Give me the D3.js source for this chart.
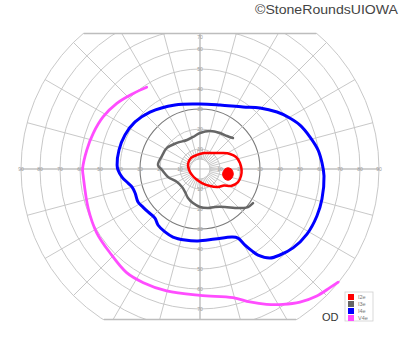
<!DOCTYPE html>
<html>
<head>
<meta charset="utf-8">
<title>Goldmann visual field OD</title>
<style>
  body { margin: 0; background: #fff; }
  svg { display: block; font-family: "Liberation Sans", Arial, sans-serif; }
</style>
</head>
<body>
<svg id="chart" width="400" height="352"></svg>
<script src="https://d3js.org/d3.v7.min.js"></script>
<script>
// grid rings (degrees of eccentricity) and axis tick labels
var rings = [5, 10, 20, 30, 40, 50, 60, 70, 80, 90];
var labelsH = [10, 20, 30, 40, 50, 60, 70, 80, 90];
var labelsV = [10, 20, 30, 40, 50, 60, 70];
var spokeAngles = [0, 15, 30, 45, 60, 75, 90, 105, 120, 135, 150, 165,
                   180, 195, 210, 225, 240, 255, 270, 285, 300, 315, 330, 345];
// extra short spokes in the central 5-10 degree band
var innerSpokes = [7.5, 22.5, 37.5, 52.5, 67.5, 82.5, 97.5, 112.5, 127.5, 142.5, 157.5, 172.5,
                   187.5, 202.5, 217.5, 232.5, 247.5, 262.5, 277.5, 292.5, 307.5, 322.5, 337.5, 352.5];

// isopters: [meridian angle (deg, CCW from right), eccentricity (deg)]
var i2e = [[8.5,20.2],[18.4,19],[26.6,16.8],[36,13.6],[53.1,10],[76,8.2],[102,7.2],[129,7.1],
           [157,6.5],[185,5.5],[217,5],[248,5.4],[278,7.1],[300.5,9.9],[315,12.7],[325.5,14.6],
           [331.3,17.7],[341,20.1],[350.3,20.8],[358.6,20.8]];
var blindSpot = [[351.5,16.8],[359.1,15.9],[2.5,14],[358.8,12.2],[347.6,11.6],[338.6,13],
                 [338.2,15.1],[343.3,16.5]];
var i3e = [[43.2,22.6],[50.7,21.3],[60.9,20.6],[75.3,19.6],[90,18],[102.3,16.4],[114.1,15.9],
           [131.5,17.4],[147.5,19.6],[161,20.1],[174.6,21.1],[181.5,19],[194,16.5],[209.5,13.2],
           [225,12.7],[236.9,13.7],[247.5,15.7],[258.4,17.4],[270,19],[281.6,19.9],[291.5,20.4],
           [303.3,22.7],[311.9,26.2],[317.8,29],[321.6,30.6],[327.3,31.5]];
var i4e = [[2.8,61.1],[9.1,59.8],[16.2,57.3],[23.7,54.6],[30.6,51.1],[36.5,47.9],[45.5,42.8],
           [55.3,37.7],[72.6,33.5],[90,32.5],[111.3,34.4],[131.3,37.9],[144.1,40.1],[155.6,41.2],
           [166.8,41.6],[177.2,41.5],[180.7,41],[185.9,39.2],[191,36.7],[194.8,35.2],[200.3,34.6],
           [208,35.1],[213.7,34.3],[219.6,33.7],[227.4,33.3],[233.1,35],[240.9,36],[248.3,36.6],
           [258.1,36.3],[268.4,36],[282.1,35.8],[295.2,37.6],[298.8,39.4],[300.6,44.2],[302.4,48.5],
           [304,51.9],[308.2,56.6],[312.9,58.7],[319.7,61],[328.7,62.6],[338.1,63],[346.2,62.8],
           [356.8,62.1]];
var v4e = [[123.1,48.8],[131.4,50.4],[141.7,53],[151.6,55],[161.5,56.3],[170.5,57.4],[180,58.7],
           [183.4,58.5],[199.7,59.3],[211.7,60.7],[222.9,61.5],[234.7,63.5],[243.5,63.5],[254.7,63.2],
           [270,63.2],[284.4,66.4],[290.6,71],[296.2,75.4],[301.5,79.4],[306.9,83.4],[312.6,86.6],
           [317.6,88.4],[320.7,89.8]];

var legendNames = ["I2e", "I3e", "I4e", "V4e"];
var legendColors = ["#ff0000", "#666666", "#0000ff", "#ff4dff"];

var cx = 200, cy = 169, yTop = 33, yBottom = 320;
var ecc = d3.scaleLinear().domain([0, 80, 90]).range([0, 160, 179]);
var rad = Math.PI / 180;

var svg = d3.select("#chart");
svg.append("defs").append("clipPath").attr("id", "cut")
  .append("rect").attr("x", 0).attr("y", yTop).attr("width", 400).attr("height", yBottom - yTop);

var grid = svg.append("g").attr("clip-path", "url(#cut)")
  .append("g").attr("transform", "translate(" + cx + "," + cy + ")");

grid.selectAll("circle.ring").data(rings).enter().append("circle")
  .attr("class", "ring")
  .attr("r", function(d) { return ecc(d); })
  .style("fill", "none")
  .style("stroke", function(d) { return d === 30 ? "#7a7a7a" : "#c2c2c2"; })
  .style("stroke-width", function(d) { return d === 30 ? 1.1 : 0.9; });

function spokes(cls, angles, from, to) {
  grid.selectAll("line." + cls).data(angles).enter().append("line")
    .attr("class", cls)
    .attr("x1", function(d) { return ecc(from) * Math.cos(d * rad); })
    .attr("y1", function(d) { return -ecc(from) * Math.sin(d * rad); })
    .attr("x2", function(d) { return ecc(to) * Math.cos(d * rad); })
    .attr("y2", function(d) { return -ecc(to) * Math.sin(d * rad); })
    .style("stroke", "#c2c2c2")
    .style("stroke-width", 0.9);
}
spokes("spoke", spokeAngles, 5, 90);
spokes("inner", innerSpokes, 5, 10);

// main axes through the centre
grid.append("line").attr("x1", -ecc(90)).attr("x2", ecc(90)).attr("y1", 0).attr("y2", 0)
  .style("stroke", "#bdbdbd").style("stroke-width", 1);
grid.append("line").attr("x1", 0).attr("x2", 0).attr("y1", -ecc(90)).attr("y2", ecc(90))
  .style("stroke", "#bdbdbd").style("stroke-width", 1);

// top and bottom cut lines of the chart
[yTop, yBottom].forEach(function(y) {
  var dy = Math.abs(y - cy), dx = Math.sqrt(ecc(90) * ecc(90) - dy * dy);
  var yy = y + (y === yTop ? 0.5 : -0.5);
  svg.append("line").attr("x1", cx - dx).attr("x2", cx + dx).attr("y1", yy).attr("y2", yy)
    .style("stroke", "#bdbdbd").style("stroke-width", 1.5);
});

// axis labels
var lab = svg.append("g").style("font-size", "5px").style("fill", "#9a9a9a").attr("text-anchor", "middle");
labelsH.forEach(function(v) {
  lab.append("text").attr("x", cx - ecc(v)).attr("y", cy + 1.8).text(v);
  lab.append("text").attr("x", cx + ecc(v)).attr("y", cy + 1.8).text(v);
});
labelsV.forEach(function(v) {
  lab.append("text").attr("x", cx).attr("y", Math.max(cy - ecc(v), yTop + 4) + 1.8).text(v);
  lab.append("text").attr("x", cx).attr("y", Math.min(cy + ecc(v), yBottom - 5) + 1.8).text(v);
});

// isopters
function radial(curve) {
  return d3.lineRadial()
    .angle(function(d) { return (90 - d[0]) * rad; })
    .radius(function(d) { return ecc(d[1]); })
    .curve(curve);
}
var iso = svg.append("g").attr("transform", "translate(" + cx + "," + cy + ")")
  .style("fill", "none").style("stroke-linecap", "round").style("stroke-linejoin", "round");

iso.append("path").attr("d", radial(d3.curveCatmullRom)(v4e))
  .style("stroke", legendColors[3]).style("stroke-width", 2.8);
iso.append("path").attr("d", radial(d3.curveCatmullRomClosed)(i4e))
  .style("stroke", legendColors[2]).style("stroke-width", 3);
iso.append("path").attr("d", radial(d3.curveCatmullRom)(i3e))
  .style("stroke", legendColors[1]).style("stroke-width", 2.5);
iso.append("path").attr("d", radial(d3.curveCatmullRomClosed)(i2e))
  .style("stroke", legendColors[0]).style("stroke-width", 2.5);
iso.append("path").attr("d", radial(d3.curveCatmullRomClosed)(blindSpot))
  .style("fill", legendColors[0]).style("stroke", legendColors[0]).style("stroke-width", 1);

// eye label
svg.append("text").attr("x", 322).attr("y", 321).style("font-size", "11px").style("fill", "#333").text("OD");

// legend
var leg = svg.append("g").attr("transform", "translate(345,292)");
leg.append("rect").attr("width", 28).attr("height", 29)
  .style("fill", "#fff").style("stroke", "#cfcfcf").style("stroke-width", 0.8);
leg.selectAll("rect.sw").data(legendNames).enter().append("rect")
  .attr("class", "sw")
  .attr("x", 3).attr("y", function(d, i) { return 2 + i * 7; })
  .attr("width", 6).attr("height", 6)
  .style("fill", function(d, i) { return legendColors[i]; });
leg.selectAll("text").data(legendNames).enter().append("text")
  .attr("x", 13).attr("y", function(d, i) { return 7 + i * 7; })
  .style("font-size", "5.5px").style("fill", "#777")
  .text(function(d) { return d; });

// copyright
svg.append("text").attr("x", 398).attr("y", 14).attr("text-anchor", "end")
  .attr("textLength", 143).attr("lengthAdjust", "spacingAndGlyphs")
  .style("font-size", "13px").style("fill", "#444")
  .text("\u00a9StoneRoundsUIOWA");
</script>
</body>
</html>
